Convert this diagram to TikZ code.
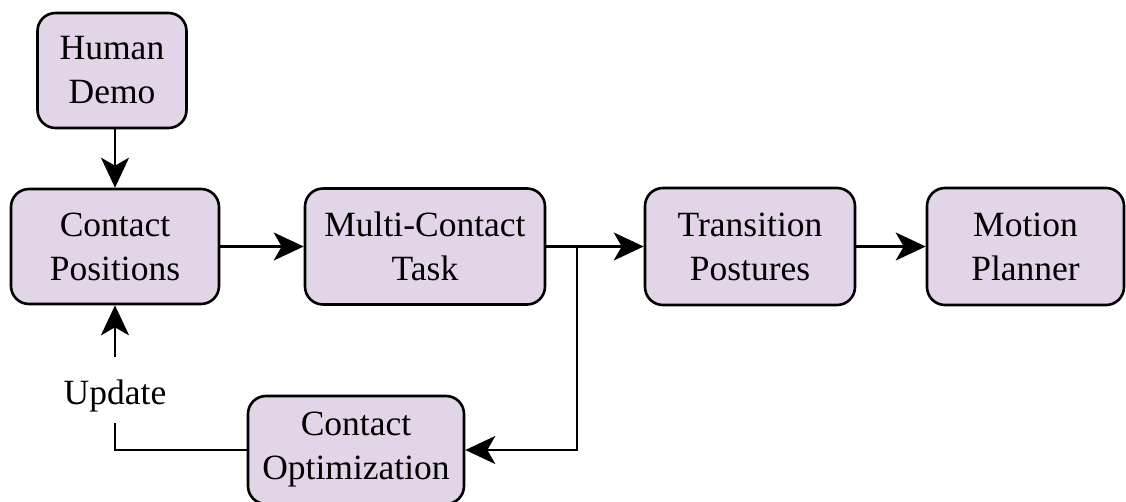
\documentclass[tikz,border=0pt]{standalone}
\usepackage{fontspec}
\setmainfont{Liberation Serif}
\usetikzlibrary{arrows.meta}
\tikzset{
  blk/.style={draw=black, line width=2.6pt, rounded corners=18pt, fill=boxfill,
    align=center, inner sep=0pt, font=\fontsize{35.5}{44}\selectfont},
  con/.style={line width=2.6pt, draw=black},
  arr/.style={con, -{Stealth[length=30pt,width=28pt,inset=8pt]}},
}
\definecolor{boxfill}{HTML}{E1D5E7}
\begin{document}
\begin{tikzpicture}[x=1pt,y=-1pt]
\useasboundingbox (0,0) rectangle (1126,502);
\node[blk, minimum width=149pt, minimum height=115pt] (hd) at (112,70.5) {Human\\Demo};
\node[blk, minimum width=208pt, minimum height=115pt] (cp) at (115,246.5) {Contact\\Positions};
\node[blk, minimum width=240pt, minimum height=116pt] (mc) at (425,246.5) {Multi-Contact\\Task};
\node[blk, minimum width=210pt, minimum height=117pt] (tp) at (750,246.5) {Transition\\Postures};
\node[blk, minimum width=197pt, minimum height=117pt] (mp) at (1025.5,246.5) {Motion\\Planner};
\node[blk, minimum width=216pt, minimum height=108pt] (co) at (356,450) {Contact\\Optimization};
\node[font=\fontsize{35.5}{44}\selectfont, inner sep=0pt, anchor=base] (upd) at (115,404) {Update};
\coordinate (br) at (577,246.5);
\coordinate (ub) at (115,423);
\coordinate (ut) at (115,357);
\draw[arr] (hd.south -| cp.north) -- (cp.north);
\draw[arr] (cp.east) -- (mc.west);
\draw[arr] (mc.east) -- (tp.west);
\draw[arr] (tp.east) -- (mp.west);
\draw[arr] (br) |- (co.east);
\draw[con] (co.west) -| (ub);
\draw[arr] (ut) -- (cp.south);
\end{tikzpicture}
\end{document}
